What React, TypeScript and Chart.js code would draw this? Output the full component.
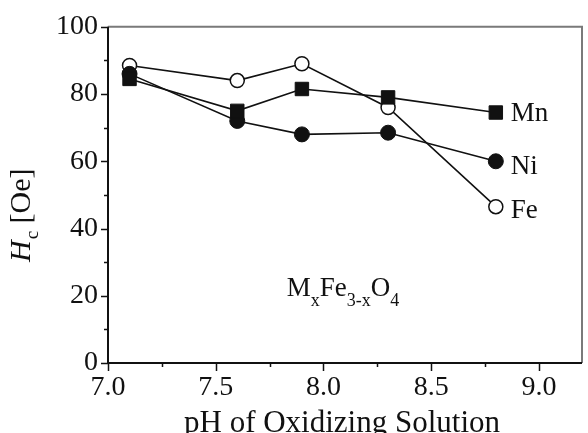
import React, { useEffect, useRef } from "react";
import { Chart, registerables } from "chart.js";

Chart.register(...registerables);

const xValues = [7.1, 7.6, 7.9, 8.3, 8.8];
const mnValues = [84.5, 75, 81.5, 79, 74.5];
const niValues = [86, 72, 68, 68.5, 60];
const feValues = [88.5, 84, 89, 76, 46.5];
const seriesNames = ["Mn", "Ni", "Fe"];
const xTickValues = [7.0, 7.5, 8.0, 8.5, 9.0];
const xMinorTicks = [7.25, 7.75, 8.25, 8.75];
const yTickValues = [0, 20, 40, 60, 80, 100];
const yMinorTicks = [10, 30, 50, 70, 90];
const xTitle = "pH of Oxidizing Solution";
const annotationPos = { x: 7.83, y: 20 };

const SERIF = '"Liberation Serif", "Times New Roman", serif';
const labelOffsets = [8, 13, 11];

function toPts(vals: number[]) {
  return xValues.map((x, i) => ({ x, y: vals[i] }));
}

const decorPlugin = {
  id: "decor",
  beforeDatasetsDraw(chart: any) {
    const { ctx, chartArea: a } = chart;
    const xs = chart.scales.x;
    const ys = chart.scales.y;
    ctx.save();
    ctx.strokeStyle = "#7a7a7a";
    ctx.lineWidth = 2;
    ctx.beginPath();
    ctx.moveTo(a.left, a.top);
    ctx.lineTo(a.right, a.top);
    ctx.lineTo(a.right, a.bottom);
    ctx.stroke();
    ctx.strokeStyle = "#111";
    ctx.lineWidth = 2;
    ctx.beginPath();
    ctx.moveTo(a.left, a.top);
    ctx.lineTo(a.left, a.bottom);
    ctx.lineTo(a.right, a.bottom);
    ctx.stroke();
    ctx.lineWidth = 1.5;
    ctx.beginPath();
    yTickValues.forEach((v) => {
      const p = Math.round(ys.getPixelForValue(v)) + 0.5;
      ctx.moveTo(a.left, p);
      ctx.lineTo(a.left - 7, p);
    });
    yMinorTicks.forEach((v) => {
      const p = Math.round(ys.getPixelForValue(v)) + 0.5;
      ctx.moveTo(a.left, p);
      ctx.lineTo(a.left - 4, p);
    });
    xTickValues.forEach((v) => {
      const p = Math.round(xs.getPixelForValue(v)) + 0.5;
      ctx.moveTo(p, a.bottom);
      ctx.lineTo(p, a.bottom + 8);
    });
    xMinorTicks.forEach((v) => {
      const p = Math.round(xs.getPixelForValue(v)) + 0.5;
      ctx.moveTo(p, a.bottom);
      ctx.lineTo(p, a.bottom + 4);
    });
    ctx.stroke();
    ctx.restore();
  },
  afterDraw(chart: any) {
    const { ctx, chartArea: a } = chart;
    const xs = chart.scales.x;
    const ys = chart.scales.y;
    ctx.save();
    ctx.fillStyle = "#111";
    ctx.textBaseline = "alphabetic";
    ctx.textAlign = "left";

    const series = [mnValues, niValues, feValues];
    ctx.font = `27px ${SERIF}`;
    series.forEach((vals, i) => {
      const n = vals.length - 1;
      const px = xs.getPixelForValue(xValues[n]);
      const py = ys.getPixelForValue(vals[n]);
      ctx.fillText(seriesNames[i], px + 15, py + labelOffsets[i]);
    });

    let ax = xs.getPixelForValue(annotationPos.x);
    const ay = ys.getPixelForValue(annotationPos.y);
    const parts: [string, boolean][] = [
      ["M", false],
      ["x", true],
      ["Fe", false],
      ["3-x", true],
      ["O", false],
      ["4", true],
    ];
    parts.forEach(([t, sub]) => {
      ctx.font = sub ? `18px ${SERIF}` : `27px ${SERIF}`;
      ctx.fillText(t, ax, ay + (sub ? 10 : 0));
      ax += ctx.measureText(t).width;
    });

    ctx.font = `31px ${SERIF}`;
    ctx.textAlign = "center";
    ctx.fillText(xTitle, (a.left + a.right) / 2 - 3, 432);

    ctx.translate(30, 262);
    ctx.rotate(-Math.PI / 2);
    ctx.textAlign = "left";
    let tx = 0;
    ctx.font = `italic 30px ${SERIF}`;
    ctx.fillText("H", tx, 0);
    tx += ctx.measureText("H").width + 1;
    ctx.font = `19px ${SERIF}`;
    ctx.fillText("c", tx, 8);
    tx += ctx.measureText("c").width;
    ctx.font = `30px ${SERIF}`;
    ctx.fillText(" [Oe]", tx, 0);
    ctx.restore();
  },
};

export default function App() {
  const ref = useRef<HTMLCanvasElement | null>(null);
  useEffect(() => {
    if (!ref.current) return;
    const tickFont = { family: SERIF, size: 28 };
    const chart = new Chart(ref.current, {
      type: "scatter",
      data: {
        datasets: [
          {
            label: "Mn",
            data: toPts(mnValues),
            showLine: true,
            borderColor: "#111",
            borderWidth: 1.6,
            pointStyle: "rect",
            pointRadius: 9.5,
            pointBackgroundColor: "#111",
            pointBorderColor: "#111",
            pointBorderWidth: 1,
          },
          {
            label: "Ni",
            data: toPts(niValues),
            showLine: true,
            borderColor: "#111",
            borderWidth: 1.6,
            pointStyle: "circle",
            pointRadius: 7.5,
            pointBackgroundColor: "#111",
            pointBorderColor: "#111",
            pointBorderWidth: 1,
          },
          {
            label: "Fe",
            data: toPts(feValues),
            showLine: true,
            borderColor: "#111",
            borderWidth: 1.6,
            pointStyle: "circle",
            pointRadius: 7,
            pointBackgroundColor: "#fff",
            pointBorderColor: "#111",
            pointBorderWidth: 1.5,
          },
        ],
      },
      options: {
        animation: false,
        responsive: false,
        events: [],
        layout: { autoPadding: false, padding: { left: 0, top: 15, right: 6, bottom: 0 } },
        plugins: { legend: { display: false }, tooltip: { enabled: false } },
        scales: {
          x: {
            type: "linear",
            min: 7.0,
            max: 9.2,
            afterBuildTicks: (s: any) => {
              s.ticks = xTickValues.map((v) => ({ value: v }));
            },
            afterFit: (s: any) => {
              s.height = 70;
            },
            ticks: {
              font: tickFont,
              color: "#111",
              padding: 8,
              maxRotation: 0,
              autoSkip: false,
              callback: (v: any) => Number(v).toFixed(1),
            },
            grid: { display: false, drawTicks: false },
            border: { display: false },
          },
          y: {
            type: "linear",
            min: 0,
            max: 100,
            afterBuildTicks: (s: any) => {
              s.ticks = yTickValues.map((v) => ({ value: v }));
            },
            afterFit: (s: any) => {
              s.width = 108;
            },
            ticks: {
              font: tickFont,
              color: "#111",
              padding: 10,
              autoSkip: false,
              callback: (v: any) => String(v),
            },
            grid: { display: false, drawTicks: false },
            border: { display: false },
          },
        },
      },
      plugins: [decorPlugin],
    });
    return () => chart.destroy();
  }, []);
  return (
    <div
      style={{
        position: "fixed",
        left: 0,
        top: 0,
        width: 588,
        height: 433,
        background: "#fff",
      }}
    >
      <canvas ref={ref} width={588} height={433} style={{ display: "block" }} />
    </div>
  );
}
